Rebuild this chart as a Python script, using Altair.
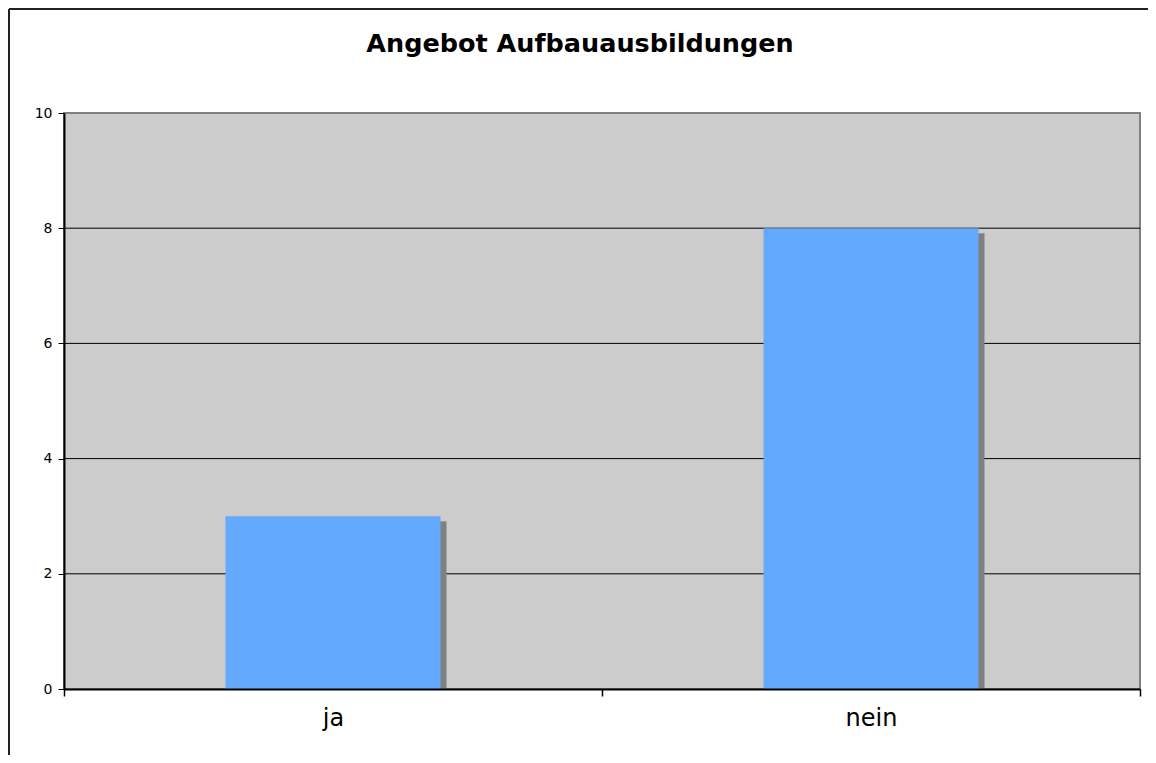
import altair as alt
import pandas as pd

categories = ["ja", "nein"]
values = [3, 8]
grid_values = [2, 4, 6, 8]
title_text = "Angebot Aufbauausbildungen"

bars_df = pd.DataFrame({"cat": categories, "val": values})
grid_df = pd.DataFrame({"val": grid_values})
one_df = pd.DataFrame({"t": [title_text]})

W, H = 1076, 576
FONT = "DejaVu Sans"

x_axis = alt.Axis(
    title=None, labelAngle=0, tickBand="extent", grid=False,
    domainColor="black", domainWidth=2, tickColor="black", tickWidth=1.5,
    tickSize=7, labelFontSize=24, labelFont=FONT, labelColor="black",
    labelPadding=10, zindex=1,
)
y_axis = alt.Axis(
    title=None, values=[0, 2, 4, 6, 8, 10], grid=False,
    domainColor="black", domainWidth=2, tickColor="black", tickWidth=1,
    tickSize=6, labelFontSize=14, labelFont=FONT, labelColor="black",
    labelPadding=6, zindex=1,
)
x_scale = alt.Scale(paddingInner=0, paddingOuter=0)
y_scale = alt.Scale(domain=[0, 10])

x_enc = alt.X("cat:N", sort=categories, scale=x_scale, axis=x_axis)
y_enc = alt.Y("val:Q", scale=y_scale, axis=y_axis)

bars = alt.Chart(bars_df).mark_bar(size=215, color="#63AAFF").encode(x=x_enc, y=y_enc)

shadow = alt.Chart(bars_df).mark_bar(
    size=215, color="#808080", xOffset=6, yOffset=5, clip=True
).encode(x=x_enc, y=y_enc)

grid = alt.Chart(grid_df).mark_rule(color="black", strokeWidth=1).encode(
    y=y_enc,
    x=alt.value(0), x2=alt.value(W),
)

frame_top = alt.Chart(one_df).mark_rule(color="#222222", strokeWidth=2).encode(
    x=alt.value(-55), x2=alt.value(W + 8), y=alt.value(-104)
)
frame_left = alt.Chart(one_df).mark_rule(color="#222222", strokeWidth=2).encode(
    x=alt.value(-55), y=alt.value(-104), y2=alt.value(H + 66)
)

title = alt.Chart(one_df).mark_text(
    font=FONT, fontSize=25.5, fontWeight="bold", color="black",
    align="center", baseline="alphabetic",
).encode(text="t:N", x=alt.value(516), y=alt.value(-61))

chart = alt.layer(grid, shadow, bars, frame_top, frame_left, title).properties(
    width=W, height=H,
    autosize=alt.AutoSizeParams(type="none"),
    padding={"left": 56, "top": 105, "right": 8, "bottom": 66},
    background="white",
).configure_view(
    fill="#CCCCCC", stroke="#808080", strokeWidth=2
)

chart.save("out.html", embed_options={"renderer": "svg", "actions": False})
